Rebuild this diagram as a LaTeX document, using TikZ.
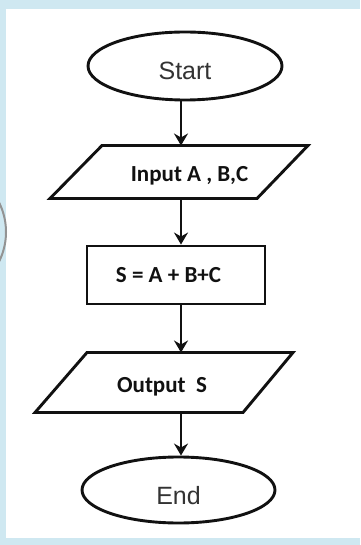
\documentclass[tikz,border=0pt]{standalone}
\usepackage{fontspec}
\setmainfont{Liberation Sans}
\newfontfamily\boldcal[BoldFont={Carlito Bold}]{Carlito}
\usetikzlibrary{shapes.geometric,arrows.meta}
\definecolor{frame}{HTML}{CFE8F1}
\definecolor{ink}{HTML}{111111}
\definecolor{softink}{HTML}{333333}
\begin{document}
\begin{tikzpicture}[x=1pt,y=-1pt,
  outline/.style={draw=ink,line width=2.9pt,line join=miter},
  terminal/.style={outline,ellipse,inner sep=0pt,text=softink,
    font=\fontsize{25}{25}\selectfont,text height=28pt,text depth=0pt},
  label/.style={inner sep=0pt,text=ink,font=\boldcal\bfseries\fontsize{23}{23}\selectfont,
    text height=14.8pt,text depth=0pt},
  flow/.style={draw=ink,line width=2.9pt,-{Stealth[length=12pt,width=14pt,inset=4pt]}}]
\useasboundingbox (0,0) rectangle (360,545);
% white page with a pale blue frame on the left, top and bottom
\fill[white] (0,0) rectangle (360,545);
\fill[frame] (0,0) rectangle (6,545);
\fill[frame] (0,0) rectangle (360,9);
\fill[frame] (0,538) rectangle (360,545);
\begin{scope}
  \clip (0,0) rectangle (360,545);
  \draw[gray!85,line width=2pt] (-60,232) circle (66);
\end{scope}

% terminals
\node[terminal,minimum width=194pt,minimum height=68pt] (start) at (185,66) {Start};
\node[terminal,minimum width=193pt,minimum height=66pt] (end) at (178.5,490) {End};

% input parallelogram
\coordinate (inTL) at (102,145.5);
\coordinate (inTR) at (308,145.5);
\coordinate (inBR) at (257,198.5);
\coordinate (inBL) at (50,198.5);
\draw[outline] (inTL) -- (inTR) -- (inBR) -- (inBL) -- cycle;
\node[label] (input) at (189.5,174.5) {Input A , B,C};

% process box
\node[outline,minimum width=178pt,minimum height=58pt,inner sep=0pt] (proc) at (176,275) {};
\node[label] (sum) at (168.5,275) {S = A + B+C};

% output parallelogram
\coordinate (outTL) at (87,352.5);
\coordinate (outTR) at (293,352.5);
\coordinate (outBR) at (243,412.5);
\coordinate (outBL) at (35,412.5);
\draw[outline] (outTL) -- (outTR) -- (outBR) -- (outBL) -- cycle;
\node[label] (output) at (162,385.5) {Output~~S};

% connectors along a common vertical axis
\coordinate (axis) at (181,0);
\draw[flow] (axis |- start.south) -- (axis |- inTL);
\draw[flow] (axis |- inBL) -- (axis |- proc.north);
\draw[flow] (axis |- proc.south) -- (axis |- outTL);
\draw[flow] (axis |- outBL) -- (axis |- end.north);
\end{tikzpicture}
\end{document}
